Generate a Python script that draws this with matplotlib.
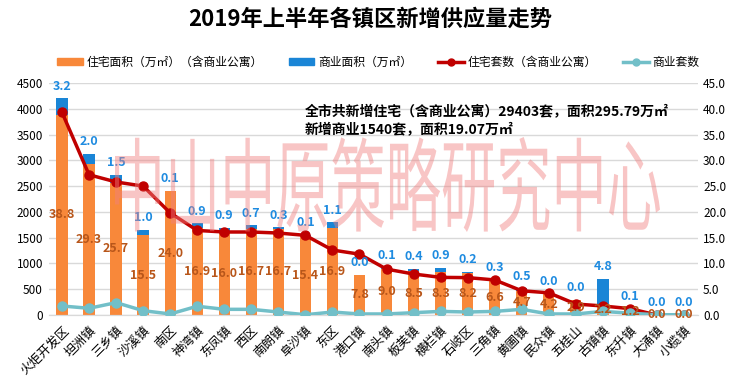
import numpy as np
import matplotlib.pyplot as plt
from matplotlib.patches import Patch, PathPatch
from matplotlib.lines import Line2D
from matplotlib.textpath import TextPath
from matplotlib.font_manager import FontProperties
from matplotlib import transforms

plt.rcParams['font.family'] = ['Noto Sans CJK SC', 'DejaVu Sans']

towns = ['火炬开发区', '坦洲镇', '三乡镇', '沙溪镇', '南区', '神湾镇', '东凤镇', '西区',
         '南朗镇', '阜沙镇', '东区', '港口镇', '南头镇', '板芙镇', '横栏镇', '石岐区',
         '三角镇', '黄圃镇', '民众镇', '五桂山', '古镇镇', '东升镇', '大涌镇', '小榄镇']
# 万㎡
res_area = [38.8, 29.3, 25.7, 15.5, 24.0, 16.9, 16.0, 16.7, 16.7, 15.4, 16.9, 7.8,
            9.0, 8.5, 8.3, 8.2, 6.6, 4.7, 4.2, 2.9, 2.2, 1.2, 0.0, 0.0]
com_area = [3.2, 2.0, 1.5, 1.0, 0.1, 0.9, 0.9, 0.7, 0.3, 0.1, 1.1, 0.0,
            0.1, 0.4, 0.9, 0.2, 0.3, 0.5, 0.0, 0.0, 4.8, 0.1, 0.0, 0.0]
# 套
res_units = [3930, 2720, 2580, 2500, 1980, 1640, 1610, 1610, 1590, 1545, 1260, 1180,
             890, 795, 730, 725, 680, 470, 430, 213, 175, 123, 0, 0]
com_units = [175, 130, 240, 84, 20, 170, 110, 110, 58, 5, 58, 20,
             20, 45, 70, 58, 70, 110, 20, 20, 70, 35, 5, 5]

c_orange = '#F8883A'
c_blue = '#1A85D6'
c_red = '#C00000'
c_teal = '#72BFC8'

fig = plt.figure(figsize=(7.56, 3.82), dpi=100)
ax = fig.add_axes([48.5 / 756, 1 - 315 / 382, 649 / 756, 232 / 382])
ax2 = ax.twinx()
x = np.arange(len(towns))

# bars on the right axis
ax2.bar(x, res_area, width=0.42, color=c_orange, zorder=2)
ax2.bar(x, com_area, width=0.42, bottom=res_area, color=c_blue, zorder=2)
ax2.set_ylim(0, 45)
ax2.set_yticks(np.arange(0, 46, 5))
ax2.set_yticklabels([f'{v:.1f}' for v in np.arange(0, 46, 5)], fontsize=8.5)
ax2.yaxis.grid(True, color='#D9D9D9', lw=1, zorder=0)
ax2.set_axisbelow(True)

# lines on the left axis
ax.plot(x, res_units, color=c_red, lw=2.5, marker='o', ms=6.5, zorder=4)
ax.plot(x, com_units, color=c_teal, lw=2.5, marker='o', ms=6.5, zorder=4)
ax.set_ylim(0, 4500)
ax.set_yticks(np.arange(0, 4501, 500))
ax.tick_params(axis='y', labelsize=8.5)
ax.set_xlim(-0.5, len(towns) - 0.5)
ax.set_xticks(x)
ax.set_xticklabels(towns, rotation=45, ha='right', rotation_mode='anchor', fontsize=9)
ax.set_zorder(ax2.get_zorder() + 1)
ax.patch.set_visible(False)

for a in (ax, ax2):
    a.tick_params(length=0, pad=4)
    for s in ['top', 'left', 'right']:
        a.spines[s].set_visible(False)
    a.spines['bottom'].set_color('#D9D9D9')
ax.tick_params(axis='x', pad=6)

# value labels
for i in range(len(towns)):
    ax.text(x[i], res_area[i] / 2, f'{res_area[i]:.1f}', transform=ax2.transData,
            ha='center', va='center', fontsize=9, color='#B8561A', fontweight='bold', zorder=6)
    ax.text(x[i], res_area[i] + com_area[i] + 1.1, f'{com_area[i]:.1f}', transform=ax2.transData,
            ha='center', va='bottom', fontsize=9, color='#1E8BE0', fontweight='bold', zorder=6)

fig.text(0.49, 1 - 19 / 382, '2019年上半年各镇区新增供应量走势', ha='center', va='center',
         fontsize=16, fontweight='bold')

fig.text(305 / 756, 1 - 112 / 382, '全市共新增住宅（含商业公寓）29403套，面积295.79万㎡',
         ha='left', va='center', fontsize=10, fontweight='bold')
fig.text(305 / 756, 1 - 130 / 382, '新增商业1540套，面积19.07万㎡',
         ha='left', va='center', fontsize=10, fontweight='bold')

handles = [Patch(color=c_orange), Patch(color=c_blue),
           Line2D([], [], color=c_red, lw=2.5, marker='o', ms=5),
           Line2D([], [], color=c_teal, lw=2.5, marker='o', ms=5)]
labels = ['住宅面积（万㎡）（含商业公寓）', '商业面积（万㎡）', '住宅套数（含商业公寓）', '商业套数']
fig.legend(handles, labels, loc='center', bbox_to_anchor=(0.5, 1 - 62 / 382), ncol=4,
           frameon=False, fontsize=8.5, handlelength=2.2, handleheight=0.5,
           columnspacing=2.2, handletextpad=0.3)

# watermark
wm = TextPath((0, 0), '中山中原策略研究中心', size=1, prop=FontProperties(family='Noto Sans CJK SC'))
ext = wm.get_extents()
sx = 545 / ext.width
sy = 95 / ext.height
tr = transforms.Affine2D().translate(-ext.x0, -ext.y0).scale(sx, sy).translate(115, 382 - 232)
fig.add_artist(PathPatch(wm, transform=tr, facecolor='#F08080', edgecolor='none', alpha=0.45, zorder=10))

fig.savefig('out.png', dpi=100)
